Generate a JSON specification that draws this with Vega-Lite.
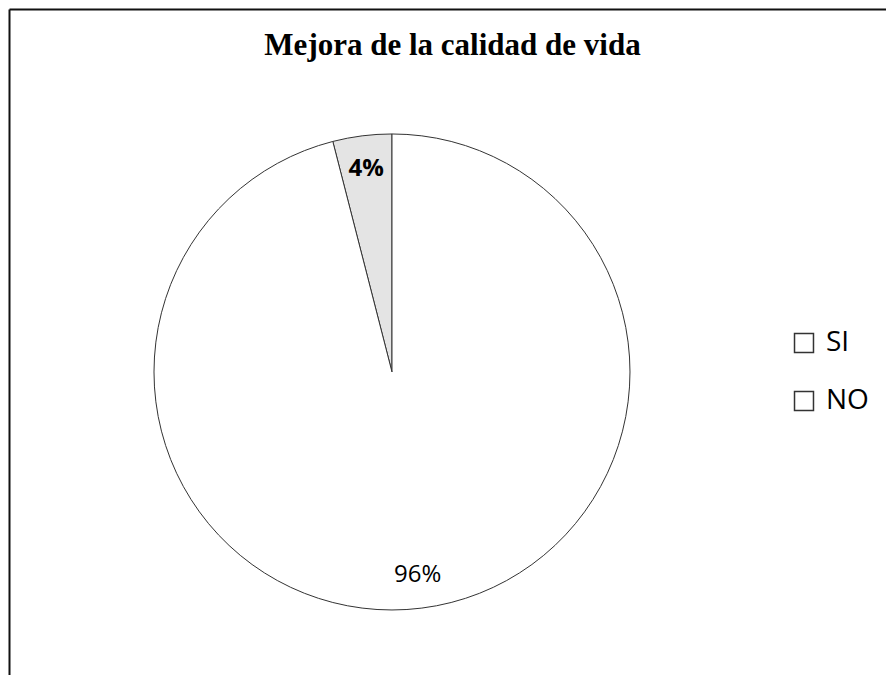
{
  "$schema": "https://vega.github.io/schema/vega-lite/v6.json",
  "width": 877,
  "height": 666,
  "autosize": {"type": "none"},
  "padding": {"left": 9, "top": 9, "right": 0, "bottom": 0},
  "background": "white",
  "title": {
    "text": "Mejora de la calidad de vida",
    "font": "Liberation Serif",
    "fontSize": 31,
    "fontWeight": "bold",
    "color": "#000",
    "anchor": "middle",
    "baseline": "alphabetic",
    "offset": -77,
    "dx": 5
  },
  "data": {
    "values": [
      {"respuesta": "SI", "valor": 4, "etiqueta": "4%"},
      {"respuesta": "NO", "valor": 96, "etiqueta": "96%"}
    ]
  },
  "encoding": {
    "x": {"datum": 0.4367, "type": "quantitative", "scale": {"domain": [0, 1], "nice": false, "zero": false},
          "axis": {"orient": "top", "title": null, "labels": false, "ticks": false, "grid": false, "domain": true, "domainColor": "#111", "domainWidth": 2}},
    "y": {"datum": 0.455, "type": "quantitative", "scale": {"domain": [0, 1], "nice": false, "zero": false},
          "axis": {"orient": "left", "title": null, "labels": false, "ticks": false, "grid": false, "domain": true, "domainColor": "#111", "domainWidth": 2}},
    "theta": {"field": "valor", "type": "quantitative", "stack": true},
    "order": {"field": "respuesta", "sort": "ascending"}
  },
  "layer": [
    {
      "mark": {"type": "arc", "radius": 238, "strokeWidth": 1},
      "encoding": {
        "fill": {"condition": {"test": "datum.respuesta === 'SI'", "value": "#e4e4e4"}, "value": "#ffffff"},
        "stroke": {
          "field": "respuesta",
          "type": "nominal",
          "scale": {"domain": ["SI", "NO"], "range": ["#333333", "#333333"]},
          "legend": {
            "orient": "none",
            "legendX": 781,
            "legendY": 320,
            "title": null,
            "symbolType": "square",
            "symbolSize": 360,
            "symbolStrokeWidth": 1.5,
            "symbolFillColor": "#ffffff",
            "symbolStrokeColor": "#222222",
            "labelFont": "Open Sans",
            "labelFontSize": 28,
            "labelFontWeight": 500,
            "labelColor": "#000",
            "labelOffset": 8,
            "rowPadding": 30,
            "padding": 0
          }
        }
      }
    },
    {
      "mark": {"type": "text", "radius": 205, "font": "Open Sans", "fontSize": 24, "fontWeight": "bold", "color": "#000"},
      "encoding": {
        "text": {"condition": {"test": "datum.respuesta === 'SI'", "field": "etiqueta"}, "value": ""}
      }
    },
    {
      "mark": {"type": "text", "radius": 205, "font": "Open Sans", "fontSize": 24, "fontWeight": "normal", "color": "#000"},
      "encoding": {
        "text": {"condition": {"test": "datum.respuesta === 'NO'", "field": "etiqueta"}, "value": ""}
      }
    }
  ],
  "config": {"view": {"stroke": null}}
}
